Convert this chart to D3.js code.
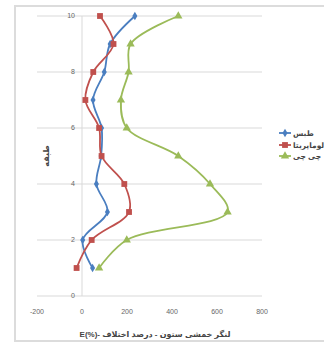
<!DOCTYPE html>
<html>
<head>
<meta charset="utf-8">
<script src="https://cdn.jsdelivr.net/npm/d3@7"></script>
<style>
  html, body { margin: 0; padding: 0; background: #fff; }
  svg { display: block; font-family: "Liberation Sans", "DejaVu Sans", sans-serif; }
</style>
</head>
<body>
<svg id="chart" width="324" height="347"></svg>
<script>
// Floors (storey number) and percentage difference in column bending moment
const floors = [1, 2, 3, 4, 5, 6, 7, 8, 9, 10];
const tabas = [47, 3, 113, 64, 85, 87, 49, 99, 125, 235];
const lomaPrieta = [-24, 43, 209, 188, 87, 76, 15, 50, 140, 80];
const chiChi = [76, 199, 647, 569, 428, 199, 173, 207, 216, 428];

const seriesNames = ["طبس", "لوماپریتا", "چی چی"];
const seriesColors = ["#4a7ec0", "#c0504d", "#9bbb59"];
const seriesShapes = [d3.symbolDiamond, d3.symbolSquare, d3.symbolTriangle];
const seriesSizes = [22, 34, 30];

const xTicks = [-200, 0, 200, 400, 600, 800];
const yTicks = [0, 2, 4, 6, 8, 10];

const svg = d3.select("#chart");

const x = d3.scaleLinear().domain([-200, 800]).range([37, 262]);
const y = d3.scaleLinear().domain([0, 10]).range([296, 16]);

// chart frame
svg.append("path")
  .attr("d", "M330,6 H15 V341 H330")
  .attr("fill", "none")
  .attr("stroke", "#dcdcdc")
  .attr("stroke-width", 2);

// horizontal gridlines
svg.append("g").selectAll("line").data(yTicks).join("line")
  .attr("x1", x(-200)).attr("x2", x(800))
  .attr("y1", d => y(d)).attr("y2", d => y(d))
  .attr("stroke", "#d9d9d9").attr("stroke-width", 1);

// vertical axis at x = 0
svg.append("line")
  .attr("x1", x(0)).attr("x2", x(0))
  .attr("y1", y(10)).attr("y2", y(0))
  .attr("stroke", "#d9d9d9").attr("stroke-width", 1);

// y tick labels next to the axis
svg.append("g").selectAll("text").data(yTicks).join("text")
  .attr("x", x(0) - 7).attr("y", d => y(d))
  .attr("dy", "0.35em")
  .attr("text-anchor", "end")
  .attr("font-size", 7)
  .attr("fill", "#666")
  .text(d => d);

// x tick labels
svg.append("g").selectAll("text").data(xTicks).join("text")
  .attr("x", d => x(d)).attr("y", 312)
  .attr("dy", "0.35em")
  .attr("text-anchor", "middle")
  .attr("font-size", 7)
  .attr("fill", "#666")
  .text(d => d);

// axis titles
svg.append("text")
  .attr("x", 155).attr("y", 337)
  .attr("direction", "rtl")
  .attr("text-anchor", "middle")
  .attr("font-size", 8)
  .attr("font-weight", "bold")
  .attr("fill", "#444")
  .text("لنگر خمشی ستون - درصد اختلاف -\u200EE(%)\u200E");

svg.append("text")
  .attr("transform", "translate(49,156) rotate(-90)")
  .attr("text-anchor", "middle")
  .attr("font-size", 8)
  .attr("font-weight", "bold")
  .attr("fill", "#444")
  .text("طبقه");

// series
const allSeries = [tabas, lomaPrieta, chiChi];
const line = d3.line()
  .x(d => x(d[0]))
  .y(d => y(d[1]))
  .curve(d3.curveCatmullRom.alpha(0.5));

allSeries.forEach((vals, i) => {
  const pts = vals.map((v, k) => [v, floors[k]]);
  const g = svg.append("g");
  g.append("path")
    .attr("d", line(pts))
    .attr("fill", "none")
    .attr("stroke", seriesColors[i])
    .attr("stroke-width", 1.8);
  g.selectAll("path.m").data(pts).join("path")
    .attr("class", "m")
    .attr("transform", d => `translate(${x(d[0])},${y(d[1])})`)
    .attr("d", d3.symbol().type(seriesShapes[i]).size(seriesSizes[i]))
    .attr("fill", seriesColors[i]);
});

// legend
const legendY = [133, 145, 156];
seriesNames.forEach((name, i) => {
  const g = svg.append("g");
  g.append("line")
    .attr("x1", 279).attr("x2", 291)
    .attr("y1", legendY[i]).attr("y2", legendY[i])
    .attr("stroke", seriesColors[i]).attr("stroke-width", 1.8);
  g.append("path")
    .attr("transform", `translate(285,${legendY[i]})`)
    .attr("d", d3.symbol().type(seriesShapes[i]).size(seriesSizes[i]))
    .attr("fill", seriesColors[i]);
  g.append("text")
    .attr("x", 293).attr("y", legendY[i])
    .attr("dy", "0.35em")
    .attr("font-size", 7.5)
    .attr("font-weight", "bold")
    .attr("fill", "#444")
    .text(name);
});
</script>
</body>
</html>
